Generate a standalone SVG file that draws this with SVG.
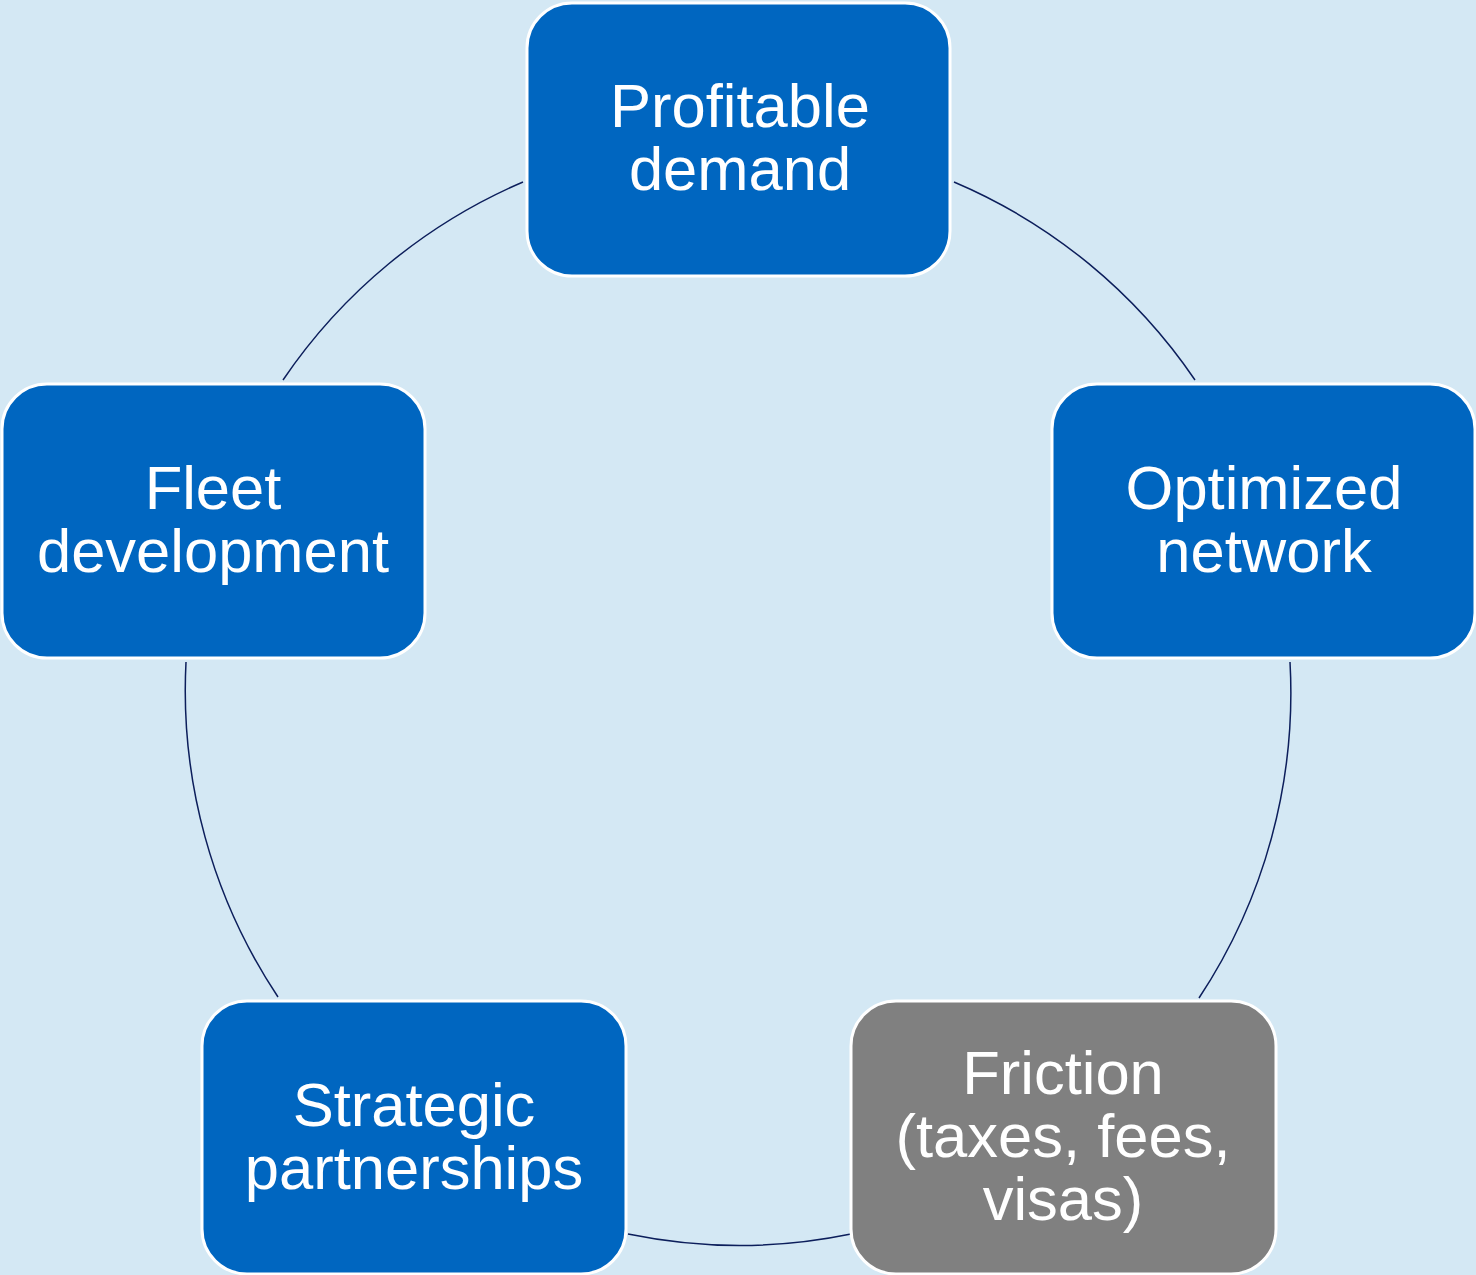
<svg xmlns="http://www.w3.org/2000/svg" width="1476" height="1275" viewBox="0 0 1476 1275">
<style>
.node rect{stroke:#FFFFFF;stroke-width:3}
.blue rect{fill:#0066C0}
.gray rect{fill:#808080}
.node text{fill:#FFFFFF;font-family:"Liberation Sans",Arial,sans-serif;font-size:61.5px;text-anchor:middle}
.conn path{fill:none;stroke:#0C1E5B;stroke-width:1.5}
</style>
<rect x="0" y="0" width="1476" height="1275" fill="#D4E8F4"/>
<g id="connectors" class="conn">
<path d="M954,182 A553,553 0 0 1 1195,380"/>
<path d="M1290,662 A553,553 0 0 1 1199,998"/>
<path d="M851,1234 A553,553 0 0 1 628,1234"/>
<path d="M278,997 A553,553 0 0 1 186,662"/>
<path d="M283,380 A553,553 0 0 1 523,182"/>
</g>
<g id="node-profitable-demand" class="node blue">
<rect x="527" y="3" width="423" height="273" rx="45" ry="45"/>
<text x="740" y="127">Profitable</text>
<text x="740" y="190">demand</text>
</g>
<g id="node-optimized-network" class="node blue">
<rect x="1052" y="384" width="423" height="274" rx="45" ry="45"/>
<text x="1264" y="509">Optimized</text>
<text x="1264" y="572">network</text>
</g>
<g id="node-friction" class="node gray">
<rect x="851" y="1001" width="425" height="273" rx="45" ry="45"/>
<text x="1063" y="1094">Friction</text>
<text x="1063" y="1157">(taxes, fees,</text>
<text x="1063" y="1220">visas)</text>
</g>
<g id="node-strategic-partnerships" class="node blue">
<rect x="202" y="1001" width="424" height="273" rx="45" ry="45"/>
<text x="414" y="1126">Strategic</text>
<text x="414" y="1189">partnerships</text>
</g>
<g id="node-fleet-development" class="node blue">
<rect x="2" y="384" width="423" height="274" rx="45" ry="45"/>
<text x="213" y="509">Fleet</text>
<text x="213" y="572">development</text>
</g>
</svg>
